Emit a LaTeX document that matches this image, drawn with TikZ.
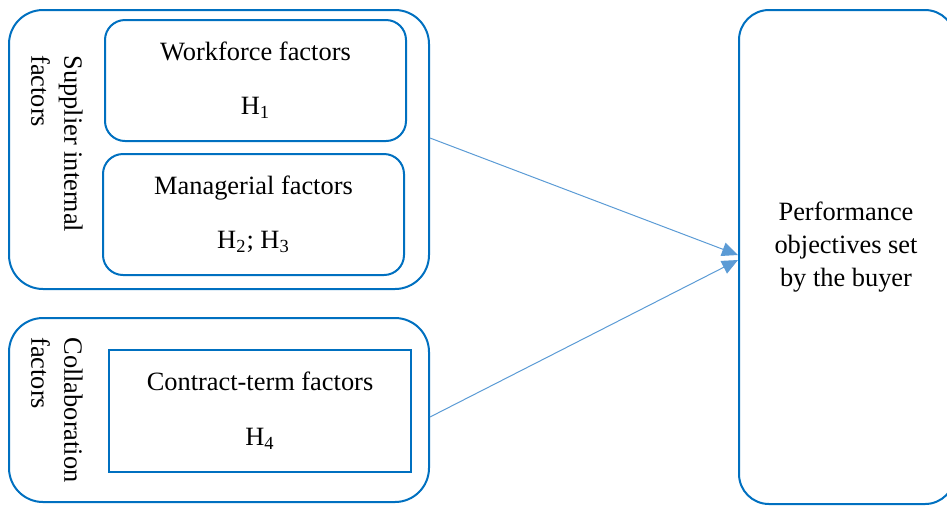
\documentclass[tikz,border=0pt]{standalone}
\usepackage{fontspec}
\setmainfont{Liberation Serif}
\usetikzlibrary{arrows.meta}

\definecolor{boxblue}{RGB}{0,112,192}
\definecolor{arrowblue}{RGB}{91,155,213}

\tikzset{
	groupbox/.style={draw=boxblue, line width=1pt, rounded corners=17pt, minimum width=210pt},
	factorbox/.style={draw=boxblue, line width=1pt, rounded corners=10pt, align=center, minimum width=150.5pt, minimum height=60.5pt},
	grouplabel/.style={rotate=-90, anchor=north west, align=left, inner sep=0pt},
	link/.style={draw=arrowblue, line width=0.5pt, -{Triangle[length=8pt, width=7pt]}}
}

\begin{document}
\begin{tikzpicture}[x=0.5pt, y=-0.5pt, font=\fontsize{13.2}{16.5}\selectfont]

		\useasboundingbox (0,0) rectangle (947,505);

		% Nodes
		\node[groupbox, minimum height=139.5pt] (internal) at (219,149.5) {};
		\node[groupbox, minimum height=92pt] (collab) at (219,410) {};
		\node[groupbox, rounded corners=15pt, minimum width=108pt, minimum height=247pt] (buyer) at (847,257) {};

		\node[factorbox] (workforce) at (255.5,80.5) {Workforce factors\\[10.5pt]H\textsubscript{1}};
		\node[factorbox] (managerial) at (253.5,214.5) {Managerial factors\\[10.5pt]H\textsubscript{2}; H\textsubscript{3}};
		\node[factorbox, rounded corners=0pt, minimum width=151pt, minimum height=61pt] (contract) at (260,411) {Contract-term factors\\[11pt]H\textsubscript{4}};

		\node[grouplabel] (internallabel) at (83,55) {Supplier internal\\factors};
		\node[grouplabel] (collablabel) at (83,337) {Collaboration\\factors};
		\node[align=center] (buyerlabel) at (846,247) {Performance\\objectives set\\by the buyer};

		% Edges
		\draw[link] ([yshift=5.75pt]internal.east) -- ([yshift=1pt]buyer.west);
		\draw[link] ([yshift=-3.5pt]collab.east) -- ([yshift=-1.5pt]buyer.west);

	\end{tikzpicture}
\end{document}
